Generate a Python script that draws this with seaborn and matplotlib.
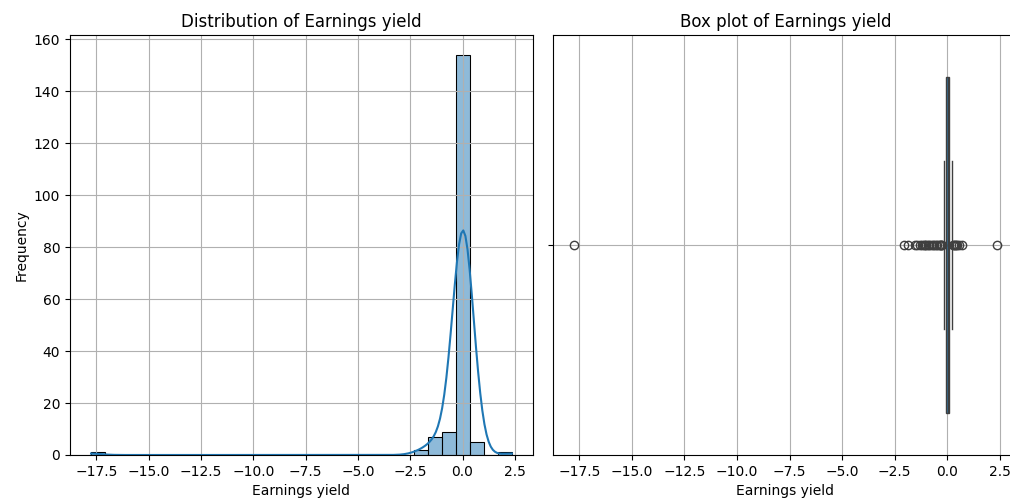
import numpy as np
import pandas as pd
import matplotlib
matplotlib.use("Agg")
import matplotlib.pyplot as plt
import seaborn as sns

# Earnings yield observations outside the dense core around zero
tail_values = [
    -17.75,
    -2.08, -1.85,
    -1.55, -1.42, -1.30, -1.21, -1.12, -1.05, -1.01,
    -0.92, -0.85, -0.78, -0.70, -0.62, -0.55, -0.48, -0.41, -0.36,
    -0.31, -0.28, -0.25,
    0.29, 0.33,
    0.38, 0.42, 0.47, 0.55, 0.68,
    2.36,
]

# Dense core: value / frequency table
core_values = [-0.14, -0.12, -0.10, -0.08, -0.06, -0.04, -0.02, 0.00, 0.02, 0.04,
               0.06, 0.08, 0.10, 0.12, 0.14, 0.16, 0.18, 0.20, 0.22]
core_counts = [2, 2, 3, 5, 6, 12, 14, 18, 16, 15,
               14, 12, 8, 6, 5, 4, 3, 2, 2]

earnings = np.concatenate([tail_values, np.repeat(core_values, core_counts)])
df = pd.DataFrame({"Earnings yield": earnings})

fig, (ax1, ax2) = plt.subplots(1, 2, figsize=(10.1, 4.99), dpi=100)

sns.histplot(df["Earnings yield"], bins=30, kde=True, ax=ax1)
ax1.set_title("Distribution of Earnings yield")
ax1.set_xlabel("Earnings yield")
ax1.set_ylabel("Frequency")
ax1.grid(True)

sns.boxplot(x=df["Earnings yield"], ax=ax2)
ax2.set_title("Box plot of Earnings yield")
ax2.set_xlabel("Earnings yield")
ax2.grid(True)

# Panel placement (the right panel runs slightly past the canvas edge)
ax1.set_position([0.0693, 0.0882, 0.4584, 0.8417])
ax2.set_position([0.5475, 0.0882, 0.4604, 0.8417])

plt.savefig("out.png", dpi=100)
